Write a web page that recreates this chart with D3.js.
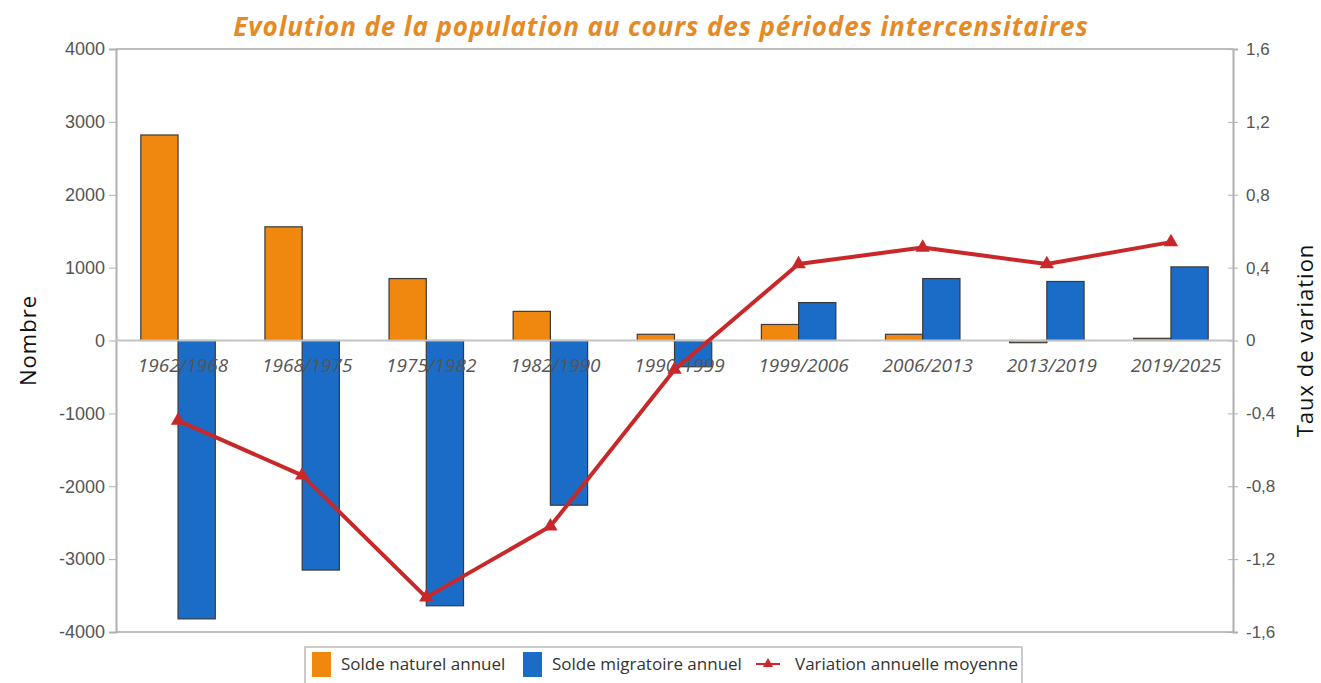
<!DOCTYPE html>
<html>
<head>
<meta charset="utf-8">
<script src="https://cdn.jsdelivr.net/npm/d3@7"></script>
<style>
  html, body { margin: 0; padding: 0; background: #fff; }
  svg { display: block; font-family: "Open Sans", "DejaVu Sans", sans-serif; }
</style>
</head>
<body>
<svg id="chart" width="1321" height="683"></svg>
<script>
// données
const periodes = ["1962/1968", "1968/1975", "1975/1982", "1982/1990", "1990/1999",
                  "1999/2006", "2006/2013", "2013/2019", "2019/2025"];
const soldeNaturel = [2820, 1560, 850, 400, 85, 220, 85, -30, 30];
const soldeMigratoire = [-3820, -3150, -3640, -2260, -360, 520, 850, 810, 1010];
const variation = [-0.44, -0.74, -1.41, -1.02, -0.16, 0.42, 0.51, 0.42, 0.54];
const ticksGauche = [-4000, -3000, -2000, -1000, 0, 1000, 2000, 3000, 4000];
const ticksDroite = [-1.6, -1.2, -0.8, -0.4, 0, 0.4, 0.8, 1.2, 1.6];
const series = ["Solde naturel annuel", "Solde migratoire annuel", "Variation annuelle moyenne"];

const couleurs = { naturel: "#F0870F", migratoire: "#1A6CC6", variation: "#C9282A" };

const svg = d3.select("#chart");
const mLeft = 116, mRight = 1233, mTop = 49, mBottom = 632;

const x0 = d3.scaleBand().domain(periodes).range([mLeft, mRight]).paddingInner(0.4).paddingOuter(0.2);
const x1 = d3.scaleBand().domain(["naturel", "migratoire"]).range([0, x0.bandwidth()]);
const yG = d3.scaleLinear().domain([-4000, 4000]).range([mBottom, mTop]);
const yD = d3.scaleLinear().domain([-1.6, 1.6]).range([mBottom, mTop]);

const fmt = d => String(d).replace(".", ",");

// cadre
svg.append("g").selectAll("line")
  .data([mTop, mBottom])
  .join("line")
  .attr("x1", mLeft).attr("x2", mRight)
  .attr("y1", d => d).attr("y2", d => d)
  .attr("stroke", "#bdbdbd").attr("stroke-width", 2);

// axe gauche
const axeG = svg.append("g")
  .attr("transform", `translate(${mLeft},0)`)
  .call(d3.axisLeft(yG).tickValues(ticksGauche).tickSize(7).tickPadding(4).tickFormat(d => d));
axeG.select(".domain").attr("stroke", "#b0b0b0").attr("stroke-width", 2);
axeG.selectAll(".tick line").attr("stroke", "#b0b0b0");
axeG.selectAll(".tick text").attr("fill", "#555").style("font-size", "18px");

// axe droit
const axeD = svg.append("g")
  .attr("transform", `translate(${mRight},0)`)
  .call(d3.axisRight(yD).tickValues(ticksDroite).tickSize(5).tickPadding(8).tickFormat(fmt));
axeD.select(".domain").attr("stroke", "#b0b0b0").attr("stroke-width", 2);
axeD.selectAll(".tick line").attr("stroke", "#b0b0b0").attr("x1", -5);
axeD.selectAll(".tick text").attr("fill", "#555").style("font-size", "17px");

// barres
const groupes = svg.append("g").selectAll("g")
  .data(periodes.map((p, i) => ({ p, naturel: soldeNaturel[i], migratoire: soldeMigratoire[i] })))
  .join("g")
  .attr("transform", d => `translate(${x0(d.p)},0)`);

groupes.selectAll("rect")
  .data(d => ["naturel", "migratoire"].map(k => ({ k, v: d[k] })))
  .join("rect")
  .attr("x", d => x1(d.k))
  .attr("width", x1.bandwidth())
  .attr("y", d => yG(Math.max(0, d.v)))
  .attr("height", d => Math.abs(yG(d.v) - yG(0)))
  .attr("fill", d => couleurs[d.k])
  .attr("stroke", "#3a3a3a").attr("stroke-width", 1.2);

// ligne du zéro
svg.append("line")
  .attr("x1", mLeft).attr("x2", mRight)
  .attr("y1", yG(0)).attr("y2", yG(0))
  .attr("stroke", "#c4c4c4").attr("stroke-width", 2);

// libellés des périodes
svg.append("g").selectAll("text")
  .data(periodes)
  .join("text")
  .attr("x", d => x0(d) + x0.bandwidth() / 2 + 5)
  .attr("y", yG(0) + 31)
  .attr("text-anchor", "middle")
  .attr("fill", "#555")
  .style("font-size", "19px").style("font-style", "italic")
  .text(d => d);

// courbe de variation
const cx = d => x0(d) + x0.bandwidth() / 2;
const ligne = d3.line().x(d => cx(d.p)).y(d => yD(d.v));
const pts = periodes.map((p, i) => ({ p, v: variation[i] }));
svg.append("path")
  .datum(pts)
  .attr("d", ligne)
  .attr("fill", "none")
  .attr("stroke", couleurs.variation).attr("stroke-width", 4)
  .attr("stroke-linejoin", "round");
svg.append("g").selectAll("path")
  .data(pts)
  .join("path")
  .attr("transform", d => `translate(${cx(d.p)},${yD(d.v)})`)
  .attr("d", d3.symbol(d3.symbolTriangle, 90))
  .attr("fill", couleurs.variation);

// titres
svg.append("text")
  .attr("x", 661).attr("y", 36)
  .attr("text-anchor", "middle")
  .attr("fill", "#E58A24")
  .style("font-size", "26px").style("font-weight", "bold").style("font-style", "italic")
  .style("letter-spacing", "0.9px")
  .text("Evolution de la population au cours des périodes intercensitaires");

svg.append("text")
  .attr("transform", `translate(36,${yG(0)}) rotate(-90)`)
  .attr("text-anchor", "middle")
  .attr("fill", "#111")
  .style("font-size", "22px").style("letter-spacing", "1px")
  .text("Nombre");

svg.append("text")
  .attr("transform", `translate(1313,${yG(0)}) rotate(-90)`)
  .attr("text-anchor", "middle")
  .attr("fill", "#111")
  .style("font-size", "22px").style("letter-spacing", "1px")
  .text("Taux de variation");

// légende
const leg = svg.append("g");
leg.append("rect")
  .attr("x", 305).attr("y", 647).attr("width", 717).attr("height", 40)
  .attr("fill", "#fff").attr("stroke", "#bbb").attr("stroke-width", 1.5);
const legX = [312, 523, 756];
series.forEach((s, i) => {
  if (i < 2) {
    leg.append("rect")
      .attr("x", legX[i]).attr("y", 652).attr("width", 19).attr("height", 25)
      .attr("fill", i === 0 ? couleurs.naturel : couleurs.migratoire);
  } else {
    leg.append("line")
      .attr("x1", legX[i]).attr("x2", legX[i] + 24).attr("y1", 664).attr("y2", 664)
      .attr("stroke", couleurs.variation).attr("stroke-width", 2);
    leg.append("path")
      .attr("transform", `translate(${legX[i] + 12},664)`)
      .attr("d", d3.symbol(d3.symbolTriangle, 45))
      .attr("fill", couleurs.variation);
  }
  leg.append("text")
    .attr("x", legX[i] + (i < 2 ? 29 : 39)).attr("y", 670)
    .attr("fill", "#333")
    .style("font-size", "17px")
    .text(s);
});
</script>
</body>
</html>
